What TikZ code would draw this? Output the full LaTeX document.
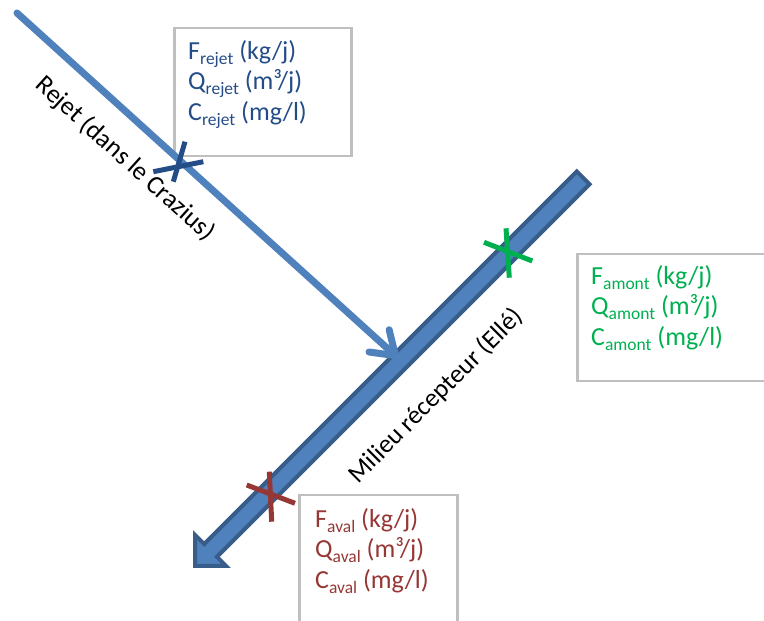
\documentclass[tikz,border=0pt]{standalone}
\usepackage{fontspec}
\setmainfont{Carlito}
\usepackage{tikz}
\usetikzlibrary{arrows.meta, positioning}
\definecolor{bleuligne}{HTML}{4F81BD}
\definecolor{bleubord}{HTML}{385D8A}
\definecolor{bleurejet}{RGB}{36,77,135}
\definecolor{vertamont}{HTML}{00B050}
\definecolor{rougeaval}{HTML}{953735}
\definecolor{grisboite}{HTML}{BFBFBF}
\newcommand{\ind}[1]{\raisebox{-5pt}{\fontsize{17.5}{17.5}\selectfont #1}}

\begin{document}
\begin{tikzpicture}[x=1pt, y=1pt, every node/.style={font=\fontsize{26}{30.5}\selectfont, inner sep=0pt}]
  \tikzset{boite/.style={draw=grisboite, line width=2.5pt, anchor=north west},
    mesures/.style={align=left},
    croix/.style={line width=5pt},
    fleuve/.style={fill=bleuligne, draw=bleubord, line width=4pt, line join=miter},
    rejet/.style={bleuligne, line width=7pt, line cap=round,
      -{Straight Barb[length=22pt, width=30pt, line cap=round, line join=round]}}}
  \clip (0,0) rectangle (764,621);
  \coordinate (aval) at (195,55);
  \coordinate (rejetdebut) at (17,608);
  \coordinate (rejetfin) at (398,263);
  \coordinate (xrejet) at (177.7,454.2);
  \coordinate (xamont) at (507.5,369.6);
  \coordinate (xaval) at (270.4,127.1);
  \node[boite, minimum width=177pt, minimum height=128pt] (boiterejet) at (173,594) {};
  \node[boite, minimum width=200pt, minimum height=127pt] (boiteamont) at (576,368) {};
  \node[boite, minimum width=158pt, minimum height=150pt] (boiteaval) at (298,127) {};
  \begin{scope}[shift={(aval)}, rotate=45]
    \draw[fleuve] (0,0) -- (22,22) -- (22,9) -- (549,9) -- (549,-9) -- (22,-9) -- (22,-22) -- cycle;
  \end{scope}
  \draw[rejet] (rejetdebut) -- (rejetfin);
  \draw[croix, bleurejet] (xrejet) ++(7.3,25.1) -- ++(-11.7,-40);
  \draw[croix, bleurejet] (xrejet) ++(-24.4,-4.9) -- ++(50,10);
  \draw[croix, vertamont] (xamont) ++(-1.5,23.1) -- ++(3.3,-49.4);
  \draw[croix, vertamont] (xamont) ++(-23.5,9.1) -- ++(48.3,-18.7);
  \draw[croix, rougeaval] (xaval) ++(-1.1,22.2) -- ++(2.4,-50);
  \draw[croix, rougeaval] (xaval) ++(-23.7,8.9) -- ++(48.3,-18.3);
  \node[rotate=-42] (lblrejet) at (125,462) {Rejet (dans le Crazius)};
  \node[rotate=45] (lblmilieu) at (436,225) {Milieu récepteur (Ellé)};
  \node[mesures, text=bleurejet, below right=13pt and 15pt of boiterejet.north west] (txtrejet)
    {F\ind{rejet} (kg/j)\\Q\ind{rejet} (m³/j)\\C\ind{rejet} (mg/l)};
  \node[mesures, text=vertamont, below right=12pt and 15pt of boiteamont.north west] (txtamont)
    {F\ind{amont} (kg/j)\\Q\ind{amont} (m³/j)\\C\ind{amont} (mg/l)};
  \node[mesures, text=rougeaval, below right=14pt and 17pt of boiteaval.north west] (txtaval)
    {F\ind{aval} (kg/j)\\Q\ind{aval} (m³/j)\\C\ind{aval} (mg/l)};
\end{tikzpicture}
\end{document}
